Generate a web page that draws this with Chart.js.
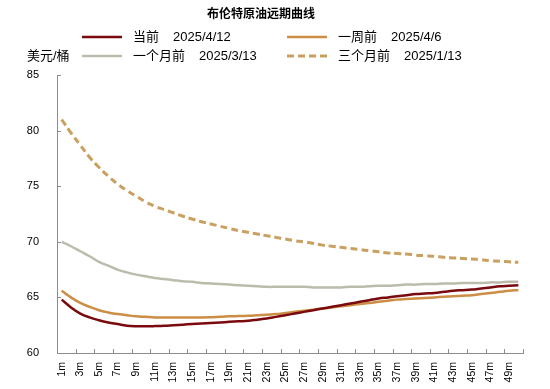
<!DOCTYPE html>
<html>
<head>
<meta charset="utf-8">
<script src="https://cdn.jsdelivr.net/npm/chart.js@4"></script>
<style>
  body { margin: 0; background: #fff; }
  canvas { display: block; }
</style>
</head>
<body>
<canvas id="curveChart" width="550" height="389"></canvas>
<script>
const FONT = '"Liberation Sans", "Noto Sans CJK SC", sans-serif';

const chartTitle = "布伦特原油远期曲线";
const unitLabel = "美元/桶";

const months = [
  "1m", "2m", "3m", "4m", "5m", "6m", "7m", "8m", "9m", "10m",
  "11m", "12m", "13m", "14m", "15m", "16m", "17m", "18m", "19m", "20m",
  "21m", "22m", "23m", "24m", "25m", "26m", "27m", "28m", "29m", "30m",
  "31m", "32m", "33m", "34m", "35m", "36m", "37m", "38m", "39m", "40m",
  "41m", "42m", "43m", "44m", "45m", "46m", "47m", "48m", "49m", "50m",
];

const seriesNames = ["当前", "一周前", "一个月前", "三个月前"];
const seriesDates = ["2025/4/12", "2025/4/6", "2025/3/13", "2025/1/13"];

// 当前 2025/4/12
const current = [
  64.8, 64.1, 63.55, 63.2, 62.95, 62.75, 62.6, 62.45, 62.4, 62.4,
  62.42, 62.45, 62.5, 62.55, 62.6, 62.65, 62.7, 62.75, 62.8, 62.85,
  62.9, 63.0, 63.1, 63.25, 63.4, 63.55, 63.7, 63.85, 64.0, 64.15,
  64.3, 64.45, 64.6, 64.75, 64.9, 65.0, 65.1, 65.2, 65.3, 65.35,
  65.4, 65.5, 65.6, 65.65, 65.7, 65.8, 65.9, 66.0, 66.05, 66.1,
];

// 一周前 2025/4/6
const weekAgo = [
  65.6, 65.0, 64.5, 64.15, 63.85, 63.65, 63.5, 63.4, 63.3, 63.25,
  63.2, 63.2, 63.2, 63.2, 63.2, 63.2, 63.22, 63.25, 63.3, 63.32,
  63.35, 63.4, 63.45, 63.5, 63.6, 63.7, 63.8, 63.9, 64.0, 64.1,
  64.2, 64.3, 64.4, 64.5, 64.6, 64.7, 64.8, 64.85, 64.9, 64.95,
  65.0, 65.05, 65.1, 65.15, 65.2, 65.3, 65.4, 65.5, 65.6, 65.65,
];

// 一个月前 2025/3/13
const monthAgo = [
  70.0, 69.6, 69.15, 68.7, 68.2, 67.85, 67.5, 67.25, 67.05, 66.9,
  66.75, 66.65, 66.55, 66.45, 66.4, 66.3, 66.25, 66.2, 66.15, 66.1,
  66.05, 66.0, 65.95, 65.95, 65.95, 65.95, 65.95, 65.9, 65.9, 65.9,
  65.9, 65.95, 65.95, 66.0, 66.05, 66.05, 66.1, 66.15, 66.15, 66.2,
  66.2, 66.25, 66.25, 66.3, 66.3, 66.3, 66.35, 66.35, 66.4, 66.4,
];

// 三个月前 2025/1/13
const threeMonthsAgo = [
  81.0, 79.8, 78.7, 77.6, 76.7, 75.9, 75.2, 74.6, 74.1, 73.6,
  73.2, 72.9, 72.6, 72.3, 72.05, 71.8, 71.6, 71.4, 71.2, 71.0,
  70.85, 70.7, 70.55, 70.4, 70.25, 70.1, 70.0, 69.85, 69.7, 69.6,
  69.5, 69.4, 69.3, 69.2, 69.1, 69.0, 68.95, 68.9, 68.8, 68.75,
  68.7, 68.6, 68.55, 68.5, 68.45, 68.4, 68.3, 68.25, 68.2, 68.15,
];

const yMin = 60;
const yMax = 85;
const yStep = 5;

const AXIS_COLOR = "#8c8c8c";

// title, legend and unit label drawn at fixed spots above the plot
const headerPlugin = {
  id: "header",
  afterDraw(chart) {
    const ctx = chart.ctx;
    ctx.save();
    ctx.fillStyle = "#000";
    ctx.textBaseline = "middle";

    ctx.font = "bold 12px " + FONT;
    ctx.textAlign = "center";
    ctx.fillText(chartTitle, 261, 15);

    ctx.font = "13px " + FONT;
    ctx.textAlign = "left";
    ctx.fillText(unitLabel, 27, 56);

    const slots = [
      { x: 82, y: 37 },
      { x: 287, y: 37 },
      { x: 82, y: 56 },
      { x: 287, y: 56 },
    ];
    chart.data.datasets.forEach((ds, i) => {
      const { x, y } = slots[i];
      ctx.strokeStyle = ds.borderColor;
      ctx.lineWidth = ds.borderWidth;
      ctx.setLineDash(ds.borderDash || []);
      ctx.beginPath();
      ctx.moveTo(x, y);
      ctx.lineTo(x + 40, y);
      ctx.stroke();
      ctx.setLineDash([]);
      ctx.fillStyle = "#000";
      ctx.fillText(seriesNames[i], x + 51, y);
      const w = ctx.measureText(seriesNames[i]).width;
      ctx.fillText(seriesDates[i], x + 51 + w + 14, y);
    });
    ctx.restore();
  },
};

// small tick marks pointing into the plot, like the original
const innerTicks = {
  id: "innerTicks",
  afterDraw(chart) {
    const ctx = chart.ctx;
    const xs = chart.scales.x;
    const ys = chart.scales.y;
    ctx.save();
    ctx.strokeStyle = AXIS_COLOR;
    ctx.lineWidth = 1;
    ctx.beginPath();
    for (let i = 0; i <= months.length; i += 2) {
      const px = Math.round(xs.getPixelForValue(i - 0.5)) + 0.5;
      ctx.moveTo(px, ys.bottom);
      ctx.lineTo(px, ys.bottom - 4);
    }
    ys.ticks.forEach((t) => {
      const py = Math.round(ys.getPixelForValue(t.value)) + 0.5;
      ctx.moveTo(xs.left, py);
      ctx.lineTo(xs.left + 4, py);
    });
    ctx.stroke();
    ctx.restore();
  },
};

const lineStyle = {
  pointRadius: 0,
  pointHoverRadius: 0,
  tension: 0.4,
  fill: false,
};

new Chart(document.getElementById("curveChart"), {
  type: "line",
  data: {
    labels: months,
    datasets: [
      { label: seriesNames[0], data: current, borderColor: "#7a0a0e", borderWidth: 2.5, order: 0, ...lineStyle },
      { label: seriesNames[1], data: weekAgo, borderColor: "#cc8d45", borderWidth: 2.5, order: 1, ...lineStyle },
      { label: seriesNames[2], data: monthAgo, borderColor: "#bcbcad", borderWidth: 2.5, order: 2, ...lineStyle },
      { label: seriesNames[3], data: threeMonthsAgo, borderColor: "#c9a060", borderWidth: 3, borderDash: [7, 4], order: 3, ...lineStyle },
    ],
  },
  options: {
    responsive: false,
    animation: false,
    layout: { padding: { top: 75, right: 27, left: 0, bottom: 0 } },
    plugins: {
      legend: { display: false },
      title: { display: false },
      tooltip: { enabled: false },
    },
    scales: {
      x: {
        offset: true,
        grid: { display: false, drawTicks: false },
        border: { display: true, color: AXIS_COLOR, width: 1 },
        ticks: {
          autoSkip: false,
          minRotation: 90,
          maxRotation: 90,
          padding: 9,
          color: "#000",
          font: { size: 10.5, family: FONT },
          callback: (value, index) => (index % 2 === 0 ? months[index] : ""),
        },
        afterFit: (scale) => {
          scale.height = 36;
        },
      },
      y: {
        min: yMin,
        max: yMax,
        grid: { display: false, drawTicks: false },
        border: { display: true, color: AXIS_COLOR, width: 1 },
        ticks: {
          stepSize: yStep,
          padding: 18,
          color: "#000",
          font: { size: 11, family: FONT },
        },
        afterFit: (scale) => {
          scale.width = 57;
        },
      },
    },
  },
  plugins: [headerPlugin, innerTicks],
});
</script>
</body>
</html>
